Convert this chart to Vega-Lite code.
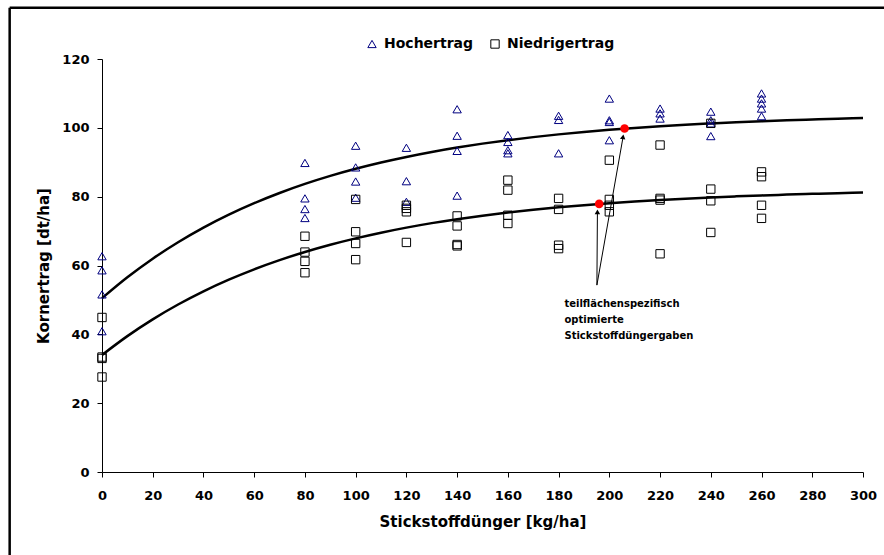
{
  "$schema": "https://vega.github.io/schema/vega-lite/v6.json",
  "width": 761,
  "height": 413,
  "autosize": {"type": "none"},
  "padding": {"left": 102, "top": 59, "right": 21, "bottom": 83},
  "background": "white",
  "config": {
    "view": {"stroke": null},
    "font": "DejaVu Sans",
    "axis": {
      "grid": false,
      "domainColor": "#000000",
      "tickColor": "#000000",
      "domainWidth": 1,
      "tickWidth": 1,
      "tickSize": 5,
      "labelFont": "DejaVu Sans",
      "labelFontWeight": "bold",
      "labelFontSize": 13,
      "labelColor": "#000000",
      "titleFont": "DejaVu Sans",
      "titleFontWeight": "bold",
      "titleFontSize": 15,
      "titleColor": "#000000"
    },
    "axisX": {"labelPadding": 12, "titlePadding": 12, "labelFlush": false},
    "axisY": {"labelPadding": 8, "titlePadding": 10, "labelFlush": false}
  },
  "datasets": {
    "punkte": [
      {"kg": 0, "ertrag": 62.7, "serie": "Hochertrag"},
      {"kg": 0, "ertrag": 58.6, "serie": "Hochertrag"},
      {"kg": 0, "ertrag": 51.6, "serie": "Hochertrag"},
      {"kg": 0, "ertrag": 40.9, "serie": "Hochertrag"},
      {"kg": 80, "ertrag": 89.8, "serie": "Hochertrag"},
      {"kg": 80, "ertrag": 79.5, "serie": "Hochertrag"},
      {"kg": 80, "ertrag": 76.4, "serie": "Hochertrag"},
      {"kg": 80, "ertrag": 73.8, "serie": "Hochertrag"},
      {"kg": 100, "ertrag": 94.8, "serie": "Hochertrag"},
      {"kg": 100, "ertrag": 88.5, "serie": "Hochertrag"},
      {"kg": 100, "ertrag": 84.4, "serie": "Hochertrag"},
      {"kg": 100, "ertrag": 79.7, "serie": "Hochertrag"},
      {"kg": 120, "ertrag": 94.2, "serie": "Hochertrag"},
      {"kg": 120, "ertrag": 84.5, "serie": "Hochertrag"},
      {"kg": 120, "ertrag": 78.5, "serie": "Hochertrag"},
      {"kg": 140, "ertrag": 105.4, "serie": "Hochertrag"},
      {"kg": 140, "ertrag": 97.7, "serie": "Hochertrag"},
      {"kg": 140, "ertrag": 93.3, "serie": "Hochertrag"},
      {"kg": 140, "ertrag": 80.3, "serie": "Hochertrag"},
      {"kg": 160, "ertrag": 97.9, "serie": "Hochertrag"},
      {"kg": 160, "ertrag": 95.9, "serie": "Hochertrag"},
      {"kg": 160, "ertrag": 93.5, "serie": "Hochertrag"},
      {"kg": 160, "ertrag": 92.6, "serie": "Hochertrag"},
      {"kg": 180, "ertrag": 103.5, "serie": "Hochertrag"},
      {"kg": 180, "ertrag": 102.3, "serie": "Hochertrag"},
      {"kg": 180, "ertrag": 92.6, "serie": "Hochertrag"},
      {"kg": 200, "ertrag": 108.5, "serie": "Hochertrag"},
      {"kg": 200, "ertrag": 102.2, "serie": "Hochertrag"},
      {"kg": 200, "ertrag": 101.7, "serie": "Hochertrag"},
      {"kg": 200, "ertrag": 96.4, "serie": "Hochertrag"},
      {"kg": 220, "ertrag": 105.6, "serie": "Hochertrag"},
      {"kg": 220, "ertrag": 104.2, "serie": "Hochertrag"},
      {"kg": 220, "ertrag": 102.7, "serie": "Hochertrag"},
      {"kg": 240, "ertrag": 104.7, "serie": "Hochertrag"},
      {"kg": 240, "ertrag": 102.2, "serie": "Hochertrag"},
      {"kg": 240, "ertrag": 101.3, "serie": "Hochertrag"},
      {"kg": 240, "ertrag": 97.6, "serie": "Hochertrag"},
      {"kg": 260, "ertrag": 110.0, "serie": "Hochertrag"},
      {"kg": 260, "ertrag": 108.5, "serie": "Hochertrag"},
      {"kg": 260, "ertrag": 107.1, "serie": "Hochertrag"},
      {"kg": 260, "ertrag": 105.6, "serie": "Hochertrag"},
      {"kg": 260, "ertrag": 103.4, "serie": "Hochertrag"},
      {"kg": 0, "ertrag": 44.9, "serie": "Niedrigertrag"},
      {"kg": 0, "ertrag": 33.4, "serie": "Niedrigertrag"},
      {"kg": 0, "ertrag": 33.0, "serie": "Niedrigertrag"},
      {"kg": 0, "ertrag": 27.6, "serie": "Niedrigertrag"},
      {"kg": 80, "ertrag": 68.5, "serie": "Niedrigertrag"},
      {"kg": 80, "ertrag": 63.9, "serie": "Niedrigertrag"},
      {"kg": 80, "ertrag": 61.2, "serie": "Niedrigertrag"},
      {"kg": 80, "ertrag": 57.9, "serie": "Niedrigertrag"},
      {"kg": 100, "ertrag": 79.2, "serie": "Niedrigertrag"},
      {"kg": 100, "ertrag": 69.8, "serie": "Niedrigertrag"},
      {"kg": 100, "ertrag": 66.4, "serie": "Niedrigertrag"},
      {"kg": 100, "ertrag": 61.7, "serie": "Niedrigertrag"},
      {"kg": 120, "ertrag": 77.5, "serie": "Niedrigertrag"},
      {"kg": 120, "ertrag": 76.6, "serie": "Niedrigertrag"},
      {"kg": 120, "ertrag": 75.6, "serie": "Niedrigertrag"},
      {"kg": 120, "ertrag": 66.7, "serie": "Niedrigertrag"},
      {"kg": 140, "ertrag": 74.4, "serie": "Niedrigertrag"},
      {"kg": 140, "ertrag": 71.5, "serie": "Niedrigertrag"},
      {"kg": 140, "ertrag": 66.1, "serie": "Niedrigertrag"},
      {"kg": 140, "ertrag": 65.7, "serie": "Niedrigertrag"},
      {"kg": 160, "ertrag": 84.8, "serie": "Niedrigertrag"},
      {"kg": 160, "ertrag": 81.9, "serie": "Niedrigertrag"},
      {"kg": 160, "ertrag": 74.6, "serie": "Niedrigertrag"},
      {"kg": 160, "ertrag": 72.2, "serie": "Niedrigertrag"},
      {"kg": 180, "ertrag": 79.5, "serie": "Niedrigertrag"},
      {"kg": 180, "ertrag": 76.3, "serie": "Niedrigertrag"},
      {"kg": 180, "ertrag": 65.9, "serie": "Niedrigertrag"},
      {"kg": 180, "ertrag": 64.9, "serie": "Niedrigertrag"},
      {"kg": 200, "ertrag": 90.6, "serie": "Niedrigertrag"},
      {"kg": 200, "ertrag": 79.2, "serie": "Niedrigertrag"},
      {"kg": 200, "ertrag": 77.5, "serie": "Niedrigertrag"},
      {"kg": 200, "ertrag": 75.6, "serie": "Niedrigertrag"},
      {"kg": 220, "ertrag": 95.0, "serie": "Niedrigertrag"},
      {"kg": 220, "ertrag": 79.5, "serie": "Niedrigertrag"},
      {"kg": 220, "ertrag": 79.0, "serie": "Niedrigertrag"},
      {"kg": 220, "ertrag": 63.4, "serie": "Niedrigertrag"},
      {"kg": 240, "ertrag": 101.3, "serie": "Niedrigertrag"},
      {"kg": 240, "ertrag": 82.2, "serie": "Niedrigertrag"},
      {"kg": 240, "ertrag": 78.8, "serie": "Niedrigertrag"},
      {"kg": 240, "ertrag": 69.6, "serie": "Niedrigertrag"},
      {"kg": 260, "ertrag": 87.2, "serie": "Niedrigertrag"},
      {"kg": 260, "ertrag": 85.8, "serie": "Niedrigertrag"},
      {"kg": 260, "ertrag": 77.5, "serie": "Niedrigertrag"},
      {"kg": 260, "ertrag": 73.7, "serie": "Niedrigertrag"}
    ],
    "kurven": [
      {"kg": 0, "ertrag": 50.5, "kurve": "oben"},
      {"kg": 10, "ertrag": 56.58, "kurve": "oben"},
      {"kg": 20, "ertrag": 61.98, "kurve": "oben"},
      {"kg": 30, "ertrag": 66.76, "kurve": "oben"},
      {"kg": 40, "ertrag": 71.01, "kurve": "oben"},
      {"kg": 50, "ertrag": 74.77, "kurve": "oben"},
      {"kg": 60, "ertrag": 78.11, "kurve": "oben"},
      {"kg": 70, "ertrag": 81.07, "kurve": "oben"},
      {"kg": 80, "ertrag": 83.70, "kurve": "oben"},
      {"kg": 90, "ertrag": 86.03, "kurve": "oben"},
      {"kg": 100, "ertrag": 88.10, "kurve": "oben"},
      {"kg": 110, "ertrag": 89.93, "kurve": "oben"},
      {"kg": 120, "ertrag": 91.55, "kurve": "oben"},
      {"kg": 130, "ertrag": 92.99, "kurve": "oben"},
      {"kg": 140, "ertrag": 94.27, "kurve": "oben"},
      {"kg": 150, "ertrag": 95.41, "kurve": "oben"},
      {"kg": 160, "ertrag": 96.41, "kurve": "oben"},
      {"kg": 170, "ertrag": 97.30, "kurve": "oben"},
      {"kg": 180, "ertrag": 98.10, "kurve": "oben"},
      {"kg": 190, "ertrag": 98.80, "kurve": "oben"},
      {"kg": 200, "ertrag": 99.42, "kurve": "oben"},
      {"kg": 210, "ertrag": 99.97, "kurve": "oben"},
      {"kg": 220, "ertrag": 100.46, "kurve": "oben"},
      {"kg": 230, "ertrag": 100.90, "kurve": "oben"},
      {"kg": 240, "ertrag": 101.28, "kurve": "oben"},
      {"kg": 250, "ertrag": 101.62, "kurve": "oben"},
      {"kg": 260, "ertrag": 101.92, "kurve": "oben"},
      {"kg": 270, "ertrag": 102.19, "kurve": "oben"},
      {"kg": 280, "ertrag": 102.43, "kurve": "oben"},
      {"kg": 290, "ertrag": 102.64, "kurve": "oben"},
      {"kg": 300, "ertrag": 102.83, "kurve": "oben"},
      {"kg": 0, "ertrag": 34.0, "kurve": "unten"},
      {"kg": 10, "ertrag": 39.48, "kurve": "unten"},
      {"kg": 20, "ertrag": 44.35, "kurve": "unten"},
      {"kg": 30, "ertrag": 48.66, "kurve": "unten"},
      {"kg": 40, "ertrag": 52.49, "kurve": "unten"},
      {"kg": 50, "ertrag": 55.88, "kurve": "unten"},
      {"kg": 60, "ertrag": 58.89, "kurve": "unten"},
      {"kg": 70, "ertrag": 61.56, "kurve": "unten"},
      {"kg": 80, "ertrag": 63.93, "kurve": "unten"},
      {"kg": 90, "ertrag": 66.03, "kurve": "unten"},
      {"kg": 100, "ertrag": 67.89, "kurve": "unten"},
      {"kg": 110, "ertrag": 69.54, "kurve": "unten"},
      {"kg": 120, "ertrag": 71.01, "kurve": "unten"},
      {"kg": 130, "ertrag": 72.31, "kurve": "unten"},
      {"kg": 140, "ertrag": 73.46, "kurve": "unten"},
      {"kg": 150, "ertrag": 74.48, "kurve": "unten"},
      {"kg": 160, "ertrag": 75.39, "kurve": "unten"},
      {"kg": 170, "ertrag": 76.19, "kurve": "unten"},
      {"kg": 180, "ertrag": 76.91, "kurve": "unten"},
      {"kg": 190, "ertrag": 77.54, "kurve": "unten"},
      {"kg": 200, "ertrag": 78.10, "kurve": "unten"},
      {"kg": 210, "ertrag": 78.60, "kurve": "unten"},
      {"kg": 220, "ertrag": 79.04, "kurve": "unten"},
      {"kg": 230, "ertrag": 79.43, "kurve": "unten"},
      {"kg": 240, "ertrag": 79.78, "kurve": "unten"},
      {"kg": 250, "ertrag": 80.09, "kurve": "unten"},
      {"kg": 260, "ertrag": 80.36, "kurve": "unten"},
      {"kg": 270, "ertrag": 80.60, "kurve": "unten"},
      {"kg": 280, "ertrag": 80.82, "kurve": "unten"},
      {"kg": 290, "ertrag": 81.01, "kurve": "unten"},
      {"kg": 300, "ertrag": 81.18, "kurve": "unten"}
    ],
    "optimum": [
      {"kg": 206, "ertrag": 99.8},
      {"kg": 196, "ertrag": 77.9}
    ],
    "pfeile": [
      {"kg": 195.1, "ertrag": 54.3, "kg2": 195.3, "ertrag2": 75.5},
      {"kg": 195.1, "ertrag": 54.3, "kg2": 205.4, "ertrag2": 97.3}
    ],
    "spitze_senkrecht": [{"kg": 195.3, "ertrag": 75.6}],
    "spitze_schraeg": [{"kg": 205.4, "ertrag": 97.4}],
    "notiz": [
      {"kg": 182.3, "ertrag": 48.0, "text": "teilflächenspezifisch\noptimierte\nStickstoffdüngergaben"}
    ]
  },
  "layer": [
    {
      "data": {"values": [{}]},
      "mark": {"type": "rule", "color": "#000000", "strokeWidth": 2.5, "clip": false},
      "encoding": {
        "x": {"datum": -36.4, "type": "quantitative", "title": "Stickstoffdünger [kg/ha]", "axis": {"values": [0, 20, 40, 60, 80, 100, 120, 140, 160, 180, 200, 220, 240, 260, 280, 300]}},
        "y": {"datum": 134.9, "type": "quantitative", "title": "Kornertrag [dt/ha]", "axis": {"values": [0, 20, 40, 60, 80, 100, 120]}},
        "y2": {"datum": -35}
      }
    },
    {
      "data": {"values": [{}]},
      "mark": {"type": "rule", "color": "#000000", "strokeWidth": 2.5, "clip": false},
      "encoding": {
        "x": {"datum": -36.4, "type": "quantitative", "title": "Stickstoffdünger [kg/ha]", "axis": {"values": [0, 20, 40, 60, 80, 100, 120, 140, 160, 180, 200, 220, 240, 260, 280, 300]}},
        "x2": {"datum": 340},
        "y": {"datum": 134.9, "type": "quantitative", "title": "Kornertrag [dt/ha]", "axis": {"values": [0, 20, 40, 60, 80, 100, 120]}}
      }
    },
    {
      "data": {"name": "kurven"},
      "mark": {"type": "line", "color": "#000000", "strokeWidth": 2.5, "interpolate": "monotone"},
      "encoding": {
        "x": {"field": "kg", "type": "quantitative", "title": "Stickstoffdünger [kg/ha]", "axis": {"values": [0, 20, 40, 60, 80, 100, 120, 140, 160, 180, 200, 220, 240, 260, 280, 300]}},
        "y": {"field": "ertrag", "type": "quantitative", "title": "Kornertrag [dt/ha]", "axis": {"values": [0, 20, 40, 60, 80, 100, 120]}},
        "detail": {"field": "kurve", "type": "nominal"}
      }
    },
    {
      "data": {"name": "punkte"},
      "mark": {"type": "point", "filled": false, "size": 70, "strokeWidth": 1, "opacity": 1},
      "encoding": {
        "x": {"field": "kg", "type": "quantitative", "scale": {"domain": [0, 300], "nice": false}, "title": "Stickstoffdünger [kg/ha]", "axis": {"values": [0, 20, 40, 60, 80, 100, 120, 140, 160, 180, 200, 220, 240, 260, 280, 300]}},
        "y": {"field": "ertrag", "type": "quantitative", "scale": {"domain": [0, 120], "nice": false}, "title": "Kornertrag [dt/ha]", "axis": {"values": [0, 20, 40, 60, 80, 100, 120]}},
        "shape": {
          "field": "serie", "type": "nominal",
          "scale": {"domain": ["Hochertrag", "Niedrigertrag"], "range": ["triangle-up", "square"]},
          "legend": {"title": null, "orient": "none", "legendX": 263, "legendY": -22, "direction": "horizontal", "labelFont": "DejaVu Sans", "labelFontWeight": "bold", "labelFontSize": 14, "labelColor": "#000000", "symbolSize": 70, "symbolStrokeWidth": 1, "labelOffset": 5, "columnPadding": 14, "padding": 0}
        },
        "color": {
          "field": "serie", "type": "nominal",
          "scale": {"domain": ["Hochertrag", "Niedrigertrag"], "range": ["#000080", "#000000"]},
          "legend": {"title": null, "orient": "none", "legendX": 263, "legendY": -22, "direction": "horizontal", "labelFont": "DejaVu Sans", "labelFontWeight": "bold", "labelFontSize": 14, "labelColor": "#000000", "symbolSize": 70, "symbolStrokeWidth": 1, "labelOffset": 5, "columnPadding": 14, "padding": 0}
        }
      }
    },
    {
      "data": {"name": "pfeile"},
      "mark": {"type": "rule", "color": "#000000", "strokeWidth": 1},
      "encoding": {
        "x": {"field": "kg", "type": "quantitative", "title": "Stickstoffdünger [kg/ha]", "axis": {"values": [0, 20, 40, 60, 80, 100, 120, 140, 160, 180, 200, 220, 240, 260, 280, 300]}},
        "y": {"field": "ertrag", "type": "quantitative", "title": "Kornertrag [dt/ha]", "axis": {"values": [0, 20, 40, 60, 80, 100, 120]}},
        "x2": {"field": "kg2"},
        "y2": {"field": "ertrag2"}
      }
    },
    {
      "data": {"name": "spitze_senkrecht"},
      "mark": {"type": "point", "shape": "triangle-up", "filled": true, "color": "#000000", "size": 30, "opacity": 1, "angle": 0},
      "encoding": {
        "x": {"field": "kg", "type": "quantitative", "title": "Stickstoffdünger [kg/ha]", "axis": {"values": [0, 20, 40, 60, 80, 100, 120, 140, 160, 180, 200, 220, 240, 260, 280, 300]}},
        "y": {"field": "ertrag", "type": "quantitative", "title": "Kornertrag [dt/ha]", "axis": {"values": [0, 20, 40, 60, 80, 100, 120]}}
      }
    },
    {
      "data": {"name": "spitze_schraeg"},
      "mark": {"type": "point", "shape": "triangle-up", "filled": true, "color": "#000000", "size": 30, "opacity": 1, "angle": 10},
      "encoding": {
        "x": {"field": "kg", "type": "quantitative", "title": "Stickstoffdünger [kg/ha]", "axis": {"values": [0, 20, 40, 60, 80, 100, 120, 140, 160, 180, 200, 220, 240, 260, 280, 300]}},
        "y": {"field": "ertrag", "type": "quantitative", "title": "Kornertrag [dt/ha]", "axis": {"values": [0, 20, 40, 60, 80, 100, 120]}}
      }
    },
    {
      "data": {"name": "optimum"},
      "mark": {"type": "circle", "color": "#ff0000", "size": 75, "opacity": 1},
      "encoding": {
        "x": {"field": "kg", "type": "quantitative", "title": "Stickstoffdünger [kg/ha]", "axis": {"values": [0, 20, 40, 60, 80, 100, 120, 140, 160, 180, 200, 220, 240, 260, 280, 300]}},
        "y": {"field": "ertrag", "type": "quantitative", "title": "Kornertrag [dt/ha]", "axis": {"values": [0, 20, 40, 60, 80, 100, 120]}}
      }
    },
    {
      "data": {"name": "notiz"},
      "mark": {"type": "text", "align": "left", "baseline": "alphabetic", "font": "DejaVu Sans", "fontWeight": "bold", "fontSize": 10, "lineHeight": 16, "lineBreak": "\n", "color": "#000000"},
      "encoding": {
        "x": {"field": "kg", "type": "quantitative", "title": "Stickstoffdünger [kg/ha]", "axis": {"values": [0, 20, 40, 60, 80, 100, 120, 140, 160, 180, 200, 220, 240, 260, 280, 300]}},
        "y": {"field": "ertrag", "type": "quantitative", "title": "Kornertrag [dt/ha]", "axis": {"values": [0, 20, 40, 60, 80, 100, 120]}},
        "text": {"field": "text"}
      }
    }
  ]
}
